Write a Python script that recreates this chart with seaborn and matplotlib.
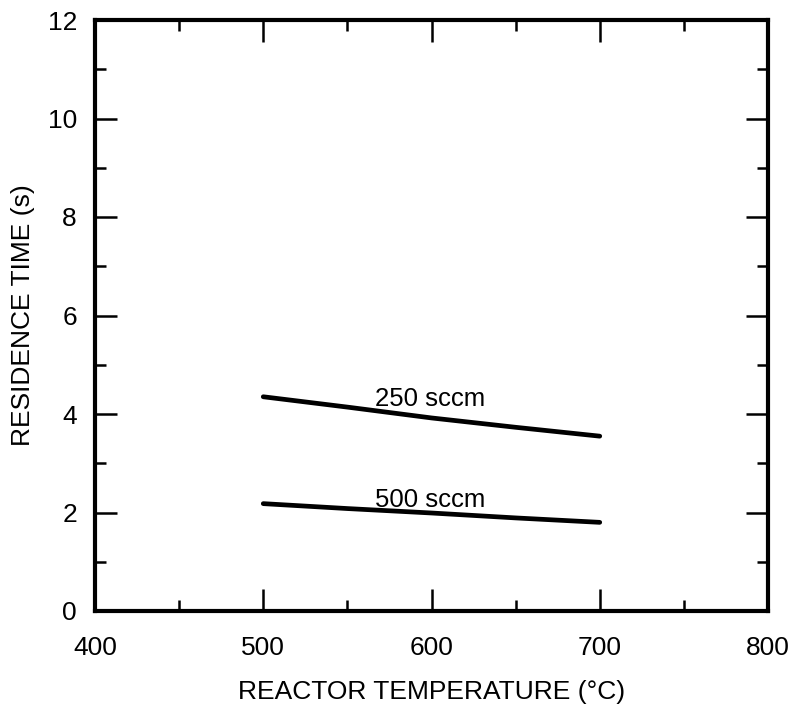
import matplotlib
matplotlib.use("Agg")
import matplotlib.pyplot as plt
import seaborn as sns
import pandas as pd
from matplotlib.ticker import MultipleLocator

temps = [500, 550, 600, 650, 700]
rt_250 = [4.35, 4.14, 3.92, 3.73, 3.55]
rt_500 = [2.18, 2.08, 1.99, 1.89, 1.80]
series_labels = ["250 sccm", "500 sccm"]

sns.set_theme(style="white")
plt.rcParams['font.family'] = ['Liberation Sans', 'DejaVu Sans']
plt.rcParams['text.color'] = 'black'
plt.rcParams['axes.labelcolor'] = 'black'
plt.rcParams['xtick.color'] = 'black'
plt.rcParams['ytick.color'] = 'black'

df = pd.concat([
    pd.DataFrame({"T": temps, "rt": rt_250, "flow": series_labels[0]}),
    pd.DataFrame({"T": temps, "rt": rt_500, "flow": series_labels[1]}),
])

fig = plt.figure(figsize=(7.94, 7.11), dpi=100)
ax = fig.add_axes([95/794, 1-611/711, (768-95)/794, (611-20)/711])
sns.lineplot(data=df, x="T", y="rt", hue="flow", palette=["black", "black"],
             linewidth=3.4, legend=False, ax=ax)

ax.set_xlim(400, 800)
ax.set_ylim(0, 12)
ax.xaxis.set_major_locator(MultipleLocator(100))
ax.xaxis.set_minor_locator(MultipleLocator(50))
ax.yaxis.set_major_locator(MultipleLocator(2))
ax.yaxis.set_minor_locator(MultipleLocator(1))
ax.tick_params(which="both", direction="in", top=True, right=True, bottom=True, left=True,
               color="black", labelsize=19, width=1.8)
ax.tick_params(which="major", length=16)
ax.tick_params(which="minor", length=8)
ax.tick_params(axis="x", which="major", pad=18)
ax.tick_params(axis="y", which="major", pad=13)
for s in ax.spines.values():
    s.set_linewidth(3)
    s.set_color("black")

ax.set_xlabel("REACTOR TEMPERATURE (°C)", fontsize=19)
ax.set_ylabel("RESIDENCE TIME (s)", fontsize=19)
ax.xaxis.set_label_coords(0.5, -0.1168)
ax.yaxis.set_label_coords(-0.089, 0.5)

ax.text(599, 4.30, series_labels[0], fontsize=18.5, ha="center", va="center")
ax.text(599, 2.26, series_labels[1], fontsize=18.5, ha="center", va="center")

fig.savefig("out.png", dpi=100)
